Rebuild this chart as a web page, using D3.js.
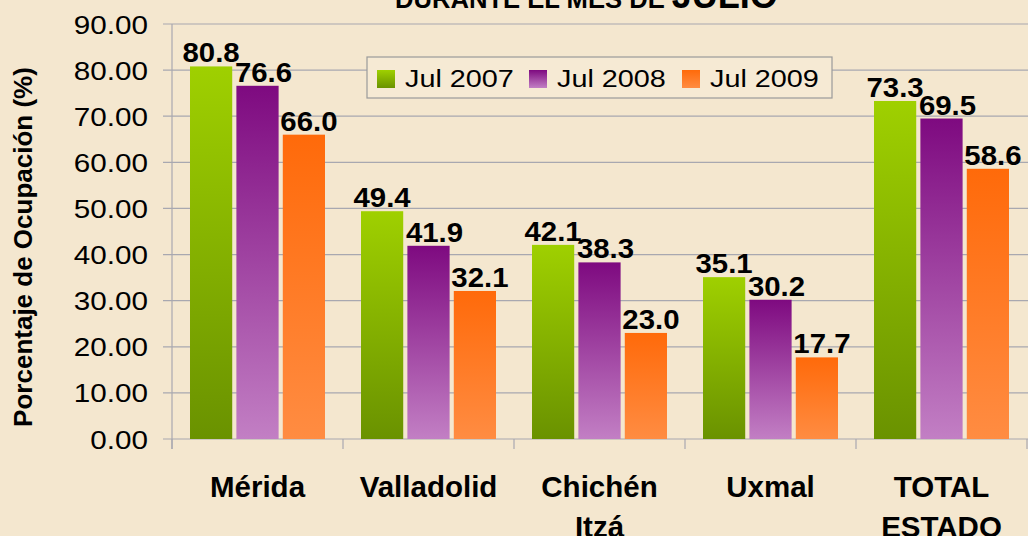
<!DOCTYPE html>
<html>
<head>
<meta charset="utf-8">
<script src="https://cdn.jsdelivr.net/npm/d3@7"></script>
<style>
  body { margin: 0; background: #f4e7cf; }
  svg { display: block; font-family: "Liberation Sans", Arial, sans-serif; }
</style>
</head>
<body>
<div id="chart"></div>
<script>
// ocupación hotelera, julio
const categories = [["Mérida"], ["Valladolid"], ["Chichén", "Itzá"], ["Uxmal"], ["TOTAL", "ESTADO"]];
const series = ["Jul 2007", "Jul 2008", "Jul 2009"];
const jul2007 = [80.8, 49.4, 42.1, 35.1, 73.3];
const jul2008 = [76.6, 41.9, 38.3, 30.2, 69.5];
const jul2009 = [66.0, 32.1, 23.0, 17.7, 58.6];
const yTicks = [0, 10, 20, 30, 40, 50, 60, 70, 80, 90];

const W = 1028, H = 536;
const margin = { left: 172, right: 1, top: 24, bottom: 97 };

const svg = d3.select("#chart").append("svg")
  .attr("width", W)
  .attr("height", H);

svg.append("rect").attr("width", W).attr("height", H).attr("fill", "#f4e7cf");

const defs = svg.append("defs");
const grads = [
  { id: "g0", top: "#9fd000", bottom: "#6a9200" },
  { id: "g1", top: "#7e0a80", bottom: "#c27fc4" },
  { id: "g2", top: "#ff6a0a", bottom: "#ff8c42" },
];
grads.forEach(g => {
  const lg = defs.append("linearGradient")
    .attr("id", g.id).attr("x1", 0).attr("y1", 0).attr("x2", 0).attr("y2", 1);
  lg.append("stop").attr("offset", "0%").attr("stop-color", g.top);
  lg.append("stop").attr("offset", "100%").attr("stop-color", g.bottom);
});

const x0 = d3.scaleBand()
  .domain(d3.range(categories.length))
  .range([margin.left, W - margin.right])
  .paddingInner(0)
  .paddingOuter(0);

const x1 = d3.scaleBand()
  .domain(d3.range(series.length))
  .range([18, x0.bandwidth() - 18])
  .paddingInner(0.09);

const y = d3.scaleLinear()
  .domain([0, 90])
  .range([H - margin.bottom, margin.top]);

// gridlines
svg.append("g")
  .selectAll("line")
  .data(yTicks)
  .join("line")
  .attr("x1", margin.left - 9)
  .attr("x2", W)
  .attr("y1", d => y(d))
  .attr("y2", d => y(d))
  .attr("stroke", "#a8a8b0")
  .attr("stroke-width", 1.2);

// y axis line
svg.append("line")
  .attr("x1", margin.left).attr("x2", margin.left)
  .attr("y1", y(90)).attr("y2", y(0) + 10)
  .attr("stroke", "#a8a8b0").attr("stroke-width", 1.2);

// y tick labels (text in the original is a bit wide)
svg.append("g")
  .selectAll("text")
  .data(yTicks)
  .join("text")
  .attr("transform", d => `translate(148,${y(d) + 9.5}) scale(1.12,1)`)
  .attr("text-anchor", "end")
  .attr("font-size", 26.5)
  .attr("fill", "#000")
  .text(d => d3.format(".2f")(d));

// category ticks
svg.append("g")
  .selectAll("line")
  .data(d3.range(categories.length + 1))
  .join("line")
  .attr("x1", i => i < categories.length ? x0(i) : W - 1)
  .attr("x2", i => i < categories.length ? x0(i) : W - 1)
  .attr("y1", y(0))
  .attr("y2", y(0) + 10)
  .attr("stroke", "#a8a8b0").attr("stroke-width", 1.2);

const data = [jul2007, jul2008, jul2009];
const labelShift = [0, 6, 5];

const groups = svg.append("g")
  .selectAll("g")
  .data(categories.map((c, i) => i))
  .join("g")
  .attr("transform", i => `translate(${x0(i)},0)`);

groups.selectAll("rect")
  .data(i => data.map((s, k) => ({ k, v: s[i] })))
  .join("rect")
  .attr("x", d => x1(d.k))
  .attr("width", x1.bandwidth())
  .attr("y", d => y(d.v))
  .attr("height", d => y(0) - y(d.v))
  .attr("fill", d => `url(#g${d.k})`);

groups.selectAll("text.val")
  .data(i => data.map((s, k) => ({ k, v: s[i] })))
  .join("text")
  .attr("class", "val")
  .attr("transform", d => `translate(${x1(d.k) + x1.bandwidth() / 2 + labelShift[d.k]},${y(d.v) - 4}) scale(1.05,1)`)
  .attr("text-anchor", "middle")
  .attr("font-size", 28)
  .attr("font-weight", "bold")
  .attr("fill", "#000")
  .text(d => d3.format(".1f")(d.v));

// category labels
const catLabels = svg.append("g")
  .selectAll("text")
  .data(categories)
  .join("text")
  .attr("x", (d, i) => x0(i) + x0.bandwidth() / 2)
  .attr("y", 497)
  .attr("text-anchor", "middle")
  .attr("font-size", 29.5)
  .attr("font-weight", "bold")
  .attr("fill", "#000");
catLabels.selectAll("tspan")
  .data(d => d)
  .join("tspan")
  .attr("x", function () { return d3.select(this.parentNode).attr("x"); })
  .attr("dy", (d, j) => j === 0 ? 0 : 40)
  .text(d => d);

// y axis title
svg.append("text")
  .attr("transform", `translate(32,247) rotate(-90)`)
  .attr("text-anchor", "middle")
  .attr("font-size", 26)
  .attr("font-weight", "bold")
  .attr("fill", "#000")
  .text("Porcentaje de Ocupación (%)");

// title (cut at the top)
const title = svg.append("text")
  .attr("x", 395)
  .attr("y", 8)
  .attr("font-weight", "bold")
  .attr("fill", "#000");
title.append("tspan").attr("font-size", 25.6).text("DURANTE EL MES DE ");
title.append("tspan").attr("font-size", 36).text("JULIO");

// legend
const legend = svg.append("g").attr("transform", "translate(367,57)");
legend.append("rect")
  .attr("width", 465).attr("height", 41)
  .attr("fill", "#f6ead4")
  .attr("stroke", "#9a9a9a").attr("stroke-width", 1.2);
const legX = [10, 162, 315];
series.forEach((s, k) => {
  legend.append("rect")
    .attr("x", legX[k]).attr("y", 13)
    .attr("width", 18).attr("height", 18)
    .attr("fill", `url(#g${k})`);
  legend.append("text")
    .attr("transform", `translate(${legX[k] + 28},30) scale(1.2,1)`)
    .attr("font-size", 24)
    .attr("fill", "#000")
    .text(s);
});
</script>
</body>
</html>
